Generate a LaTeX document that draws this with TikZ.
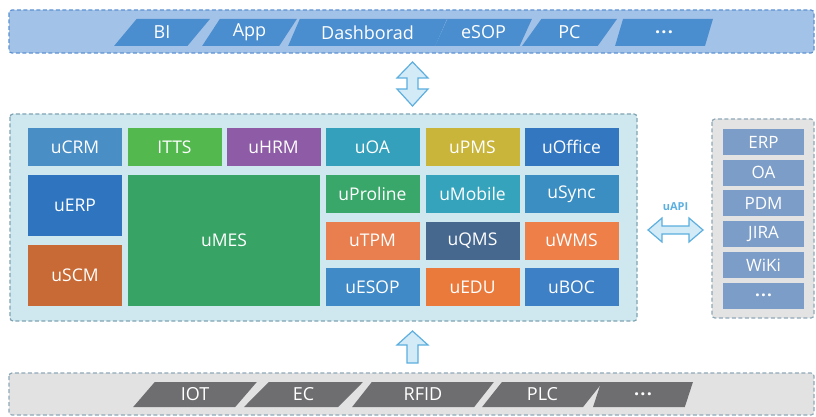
\documentclass[tikz,border=0pt]{standalone}
\usepackage{fontspec}
\setmainfont{Open Sans}
\usetikzlibrary{shapes.geometric}
\definecolor{topfill}{HTML}{A3C2E8}
\definecolor{topline}{HTML}{5B91D2}
\definecolor{topshape}{HTML}{4A8ECF}
\definecolor{midfill}{HTML}{CFE8EF}
\definecolor{midline}{HTML}{7FA3B3}
\definecolor{botfill}{HTML}{E2E2E2}
\definecolor{botline}{HTML}{8FA8B8}
\definecolor{botshape}{HTML}{6E6E70}
\definecolor{sidefill}{HTML}{E3E3E3}
\definecolor{sideitem}{HTML}{7C9DC7}
\definecolor{arrfill}{HTML}{D3EAF7}
\definecolor{arrline}{HTML}{5CAFDE}
\definecolor{cCRM}{HTML}{4A8EC6}
\definecolor{cITTS}{HTML}{53B94F}
\definecolor{cHRM}{HTML}{8E5BA6}
\definecolor{cOA}{HTML}{35A0BB}
\definecolor{cPMS}{HTML}{C9B53A}
\definecolor{cOffice}{HTML}{3477C1}
\definecolor{cERP}{HTML}{2F74BF}
\definecolor{cMES}{HTML}{37A465}
\definecolor{cProline}{HTML}{3AA76A}
\definecolor{cMobile}{HTML}{35A3BC}
\definecolor{cSync}{HTML}{3A8EC2}
\definecolor{cTPM}{HTML}{E97F4F}
\definecolor{cQMS}{HTML}{46688F}
\definecolor{cWMS}{HTML}{EE7F49}
\definecolor{cSCM}{HTML}{C86A35}
\definecolor{cESOP}{HTML}{3F8AC7}
\definecolor{cEDU}{HTML}{EA7A3C}
\definecolor{cBOC}{HTML}{3D80C6}
\newcommand{\mydots}{\textbf{.\kern1.2pt.\kern1.2pt.}}
\tikzset{
  panel/.style={line width=1.2pt, dash pattern=on 4pt off 2.5pt, rounded corners=3pt},
  blk/.style={minimum width=94pt, minimum height=38pt, inner sep=0pt, text=white, font=\fontsize{17.5}{19}\selectfont},
  para/.style={trapezium, trapezium left angle=60, trapezium right angle=120, trapezium stretches=true, inner sep=0pt, text=white, font=\fontsize{18}{20}\selectfont},
  topp/.style={para, fill=topshape, minimum height=27pt},
  botp/.style={para, fill=botshape, minimum height=25pt},
  sideb/.style={fill=sideitem, minimum width=81pt, minimum height=26pt, inner sep=0pt, text=white, font=\fontsize{17}{19}\selectfont},
  fatarrow/.style={fill=arrfill, draw=arrline, line width=1.2pt, line join=miter}
}
\begin{document}
\begin{tikzpicture}[x=1pt,y=-1pt]
\useasboundingbox (0,0) rectangle (816,417);
% panels
\draw[panel, fill=topfill, draw=topline] (9,10) rectangle (814,53);
\draw[panel, fill=midfill, draw=midline] (10,114) rectangle (637,321);
\draw[panel, fill=sidefill, draw=botline] (712,119) rectangle (814,318);
\draw[panel, fill=botfill, draw=botline] (9,373) rectangle (814,415);
% top items
\node[topp, minimum width=96pt] (bi) at (162,32.5) {BI};
\node[topp, minimum width=95pt] (app) at (249.5,32.5) {App};
\node[topp, minimum width=159pt] (dash) at (367.5,32.5) {Dashborad};
\node[topp, minimum width=97pt] (esop) at (483.5,32.5) {eSOP};
\node[topp, minimum width=95pt] (pc) at (569.5,32.5) {PC};
\node[topp, minimum width=98pt] (tdots) at (664,32.5) {\mydots};
% bottom items
\node[botp, minimum width=124pt] (iot) at (195,394.5) {IOT};
\node[botp, minimum width=119pt] (ec) at (303.5,394.5) {EC};
\node[botp, minimum width=142pt] (rfid) at (423,394.5) {RFID};
\node[botp, minimum width=121pt] (plc) at (542.5,394.5) {PLC};
\node[botp, minimum width=100pt] (bdots) at (643,394.5) {\mydots};
% blocks
\node[blk, fill=cCRM] (ucrm) at (75,147) {uCRM};
\node[blk, fill=cITTS] (itts) at (174.5,147) {ITTS};
\node[blk, fill=cHRM] (uhrm) at (273.5,147) {uHRM};
\node[blk, fill=cOA] (uoa) at (372.5,147) {uOA};
\node[blk, fill=cPMS] (upms) at (472.5,147) {uPMS};
\node[blk, fill=cOffice] (uoffice) at (571.5,147) {uOffice};
\node[blk, fill=cERP, minimum height=61pt] (uerp) at (75,205.5) {uERP};
\node[blk, fill=cSCM, minimum height=61pt] (uscm) at (75,275.5) {uSCM};
\node[blk, fill=cMES, minimum width=192pt, minimum height=131pt] (umes) at (224,240.5) {uMES};
\node[blk, fill=cProline] (uproline) at (372.5,194) {uProline};
\node[blk, fill=cMobile] (umobile) at (472.5,194) {uMobile};
\node[blk, fill=cSync] (usync) at (571.5,194) {uSync};
\node[blk, fill=cTPM] (utpm) at (372.5,240.5) {uTPM};
\node[blk, fill=cQMS] (uqms) at (472.5,240.5) {uQMS};
\node[blk, fill=cWMS] (uwms) at (571.5,240.5) {uWMS};
\node[blk, fill=cESOP] (uesop) at (372.5,287) {uESOP};
\node[blk, fill=cEDU] (uedu) at (472.5,287) {uEDU};
\node[blk, fill=cBOC] (uboc) at (571.5,287) {uBOC};
% side items
\node[sideb] (serp) at (763.5,142) {ERP};
\node[sideb] (soa) at (763.5,172.7) {OA};
\node[sideb] (spdm) at (763.5,203.4) {PDM};
\node[sideb] (sjira) at (763.5,234.1) {JIRA};
\node[sideb] (swiki) at (763.5,264.8) {WiKi};
\node[sideb] (sdots) at (763.5,295.5) {\mydots};
% arrows
\draw[fatarrow] (412.5,62) -- (428,78) -- (418,78) -- (418,89) -- (428,89) -- (412.5,106) -- (397,89) -- (407,89) -- (407,78) -- (397,78) -- cycle;
\draw[fatarrow] (412.5,331) -- (428,345) -- (418,345) -- (418,363) -- (407,363) -- (407,345) -- (397,345) -- cycle;
\draw[fatarrow] (648,230) -- (662,218) -- (662,226) -- (689,226) -- (689,218) -- (703,230) -- (689,242) -- (689,234) -- (662,234) -- (662,242) -- cycle;
\node[text=arrline, font=\bfseries\fontsize{11}{13}\selectfont, inner sep=0pt] (uapi) at (675.5,207) {uAPI};
\end{tikzpicture}
\end{document}
